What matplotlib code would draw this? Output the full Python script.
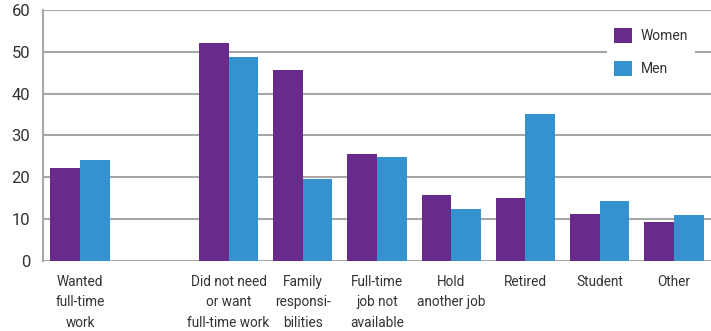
import numpy as np
import matplotlib
matplotlib.use('Agg')
import matplotlib.pyplot as plt

# Reasons for part-time work, percent of part-time workers
categories = ['Wanted\nfull-time\nwork',
              'Did not need\nor want\nfull-time work',
              'Family\nresponsi-\nbilities',
              'Full-time\njob not\navailable',
              'Hold\nanother job',
              'Retired',
              'Student',
              'Other']
women = [22.2, 52.2, 45.7, 25.6, 15.8, 15.1, 11.2, 9.3]
men = [24.1, 48.8, 19.6, 24.9, 12.4, 35.2, 14.3, 11.0]
y_ticks = [0, 10, 20, 30, 40, 50, 60]

PURPLE = '#692B8B'
BLUE = '#3492D1'
GRID = '#A7A7A7'
TEXT = '#333333'

plt.rcParams['font.family'] = ['Roboto', 'DejaVu Sans']

fig = plt.figure(figsize=(7.11, 3.31), dpi=100)
ax = fig.add_axes([43 / 711, 70.3 / 331, 668 / 711, 250.7 / 331])

# first group stands apart from the rest, leave one empty slot after it
x = np.r_[0, np.arange(2, len(categories) + 1)]
w = 0.4
ax.bar(x - w / 2, women, width=w, color=PURPLE, label='Women', zorder=3)
ax.bar(x + w / 2, men, width=w, color=BLUE, label='Men', zorder=3)

ax.set_xlim(-0.5, len(categories) + 0.5)
ax.set_ylim(0, 60)
ax.set_yticks(y_ticks)
ax.set_xticks(x)
ax.set_xticklabels(categories, fontsize=9.8, color=TEXT, linespacing=1.6)
ax.tick_params(axis='y', labelsize=12, colors=TEXT, length=0, pad=9)
ax.tick_params(axis='x', length=0, pad=10)

ax.grid(axis='y', color=GRID, linewidth=1.5, zorder=0)
for s in ['top', 'right', 'bottom']:
    ax.spines[s].set_visible(False)
ax.spines['left'].set_color(GRID)
ax.spines['left'].set_linewidth(1.5)

leg = ax.legend(loc='upper left', bbox_to_anchor=(564 / 668, 0.955), fontsize=10,
                frameon=True, fancybox=False, edgecolor='none', facecolor='white',
                framealpha=1, handlelength=1.3, handleheight=1.3, handletextpad=0.65,
                labelspacing=1.25, borderpad=0.5, borderaxespad=0)
for t in leg.get_texts():
    t.set_color(TEXT)
leg.set_zorder(5)

fig.savefig('out.png', dpi=100, facecolor='white')
